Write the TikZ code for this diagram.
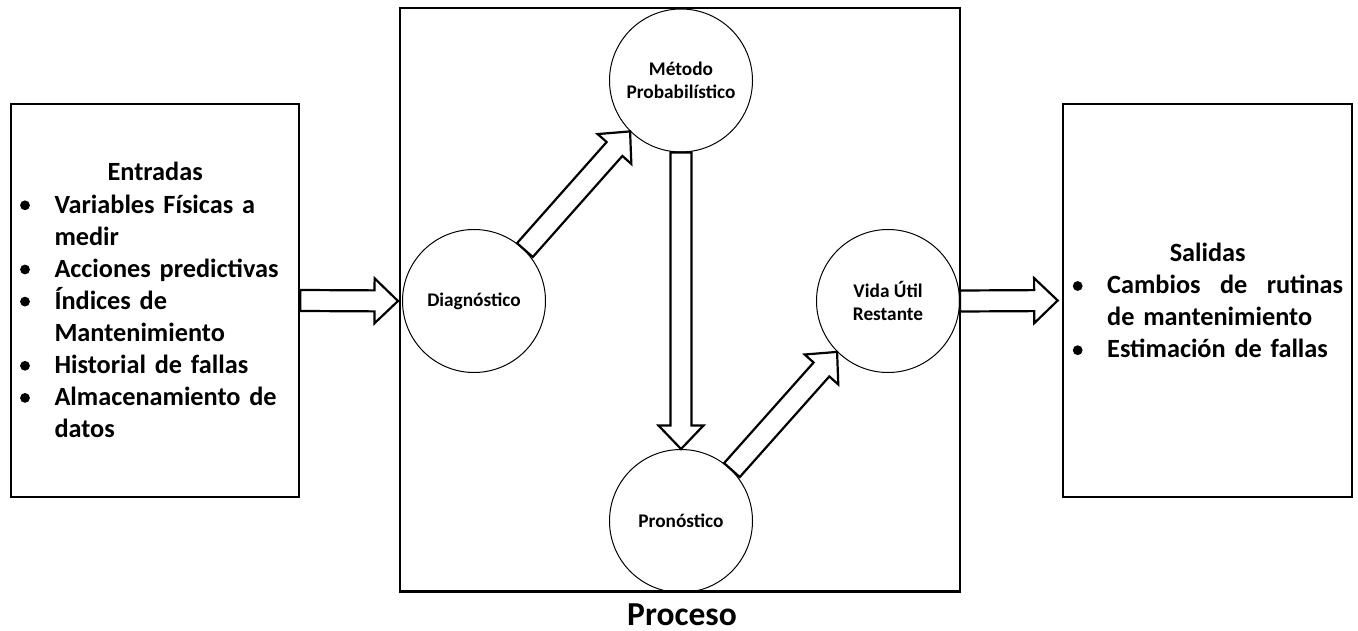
\documentclass[tikz,border=0pt]{standalone}
\usepackage{fontspec}
\setmainfont{Carlito}
\usetikzlibrary{calc}

% fixed hanging indents for the two lists
\newcommand{\indA}{\noindent\hspace*{34.3pt}}
\newcommand{\indB}{\noindent\hspace*{37pt}}

% hollow block arrow from #1 to #2
\newcommand{\blockarrow}[2]{%
  \coordinate (ba-s) at (#1);
  \coordinate (ba-t) at (#2);
  \coordinate (ba-b) at ($(ba-t)!23.5pt!(ba-s)$);
  \draw[hollowarrow]
    ($(ba-s)!10.5pt!90:(ba-t)$) -- ($(ba-b)!10.5pt!90:(ba-t)$) --
    ($(ba-b)!22.5pt!90:(ba-t)$) -- (ba-t) --
    ($(ba-b)!22.5pt!-90:(ba-t)$) -- ($(ba-b)!10.5pt!-90:(ba-t)$) --
    ($(ba-s)!10.5pt!-90:(ba-t)$) -- cycle;
}

\tikzset{
  frame/.style={draw, line width=2.6pt, rectangle, inner sep=0pt},
  stage/.style={draw, line width=1pt, circle, minimum size=143pt, inner sep=0pt,
    align=center, font=\fontsize{19.3}{23.5}\selectfont\bfseries},
  hollowarrow/.style={draw, fill=white, line width=2.2pt, line join=miter},
  listtext/.style={inner sep=0pt, anchor=base west,
    font=\fontsize{26.3}{32.1}\selectfont\bfseries},
  listdot/.style={fill=black},
}

\begin{document}
\begin{tikzpicture}[x=1pt, y=-1pt]
\useasboundingbox (0,0) rectangle (1358,631);

% the three blocks
\node[frame, minimum width=288pt, minimum height=393pt] (inbox) at (155,300.5) {};
\node[frame, minimum width=560pt, minimum height=583.5pt] (procbox) at (680,299.75) {};
\node[frame, minimum width=289pt, minimum height=393pt] (outbox) at (1207.5,300.5) {};

% inputs
\node[listtext, text width=270pt] (inlist) at (20,181) {\parindent=0pt
  \centering Entradas\par\raggedright
  \indA\mbox{Variables Físicas a}\par
  \indA\mbox{medir}\par
  \indA\mbox{Acciones predictivas}\par
  \indA\mbox{Índices de}\par
  \indA\mbox{Mantenimiento}\par
  \indA\mbox{Historial de fallas}\par
  \indA\mbox{Almacenamiento de}\par
  \indA\mbox{datos}\par};
\foreach \yy in {205.3,269.5,301.6,365.8,397.9}
  \fill[listdot] (25,\yy) circle (4.9pt);

% outputs
\node[listtext, text width=275pt] (outlist) at (1070,261.7) {\parindent=0pt
  \centering Salidas\par\raggedright
  \indB\hbox to 236pt{Cambios\hfill de\hfill rutinas}\par
  \indB\mbox{de mantenimiento}\par
  \indB\mbox{Estimación de fallas}\par};
\foreach \yy in {286.0,350.2}
  \fill[listdot] (1077.7,\yy) circle (4.9pt);

% process stages
\node[stage] (metodo) at (681,80.5) {Método\\Probabilístico};
\node[stage] (diag) at (474,301) {Diagnóstico};
\node[stage] (vida) at (888,301) {Vida Útil\\Restante};
\node[stage] (prono) at (681,521) {Pronóstico};

\node[anchor=base, inner sep=0pt, font=\fontsize{33.5}{33.5}\selectfont\bfseries]
  (proclabel) at (682,625) {Proceso};

% flow
\blockarrow{inbox.east}{$(diag.west)+(-4,0)$}
\blockarrow{diag.45}{metodo.225}
\blockarrow{metodo.south}{prono.north}
\blockarrow{prono.45}{vida.225}
\blockarrow{vida.east}{$(outbox.west)+(-4,0)$}
\end{tikzpicture}
\end{document}
